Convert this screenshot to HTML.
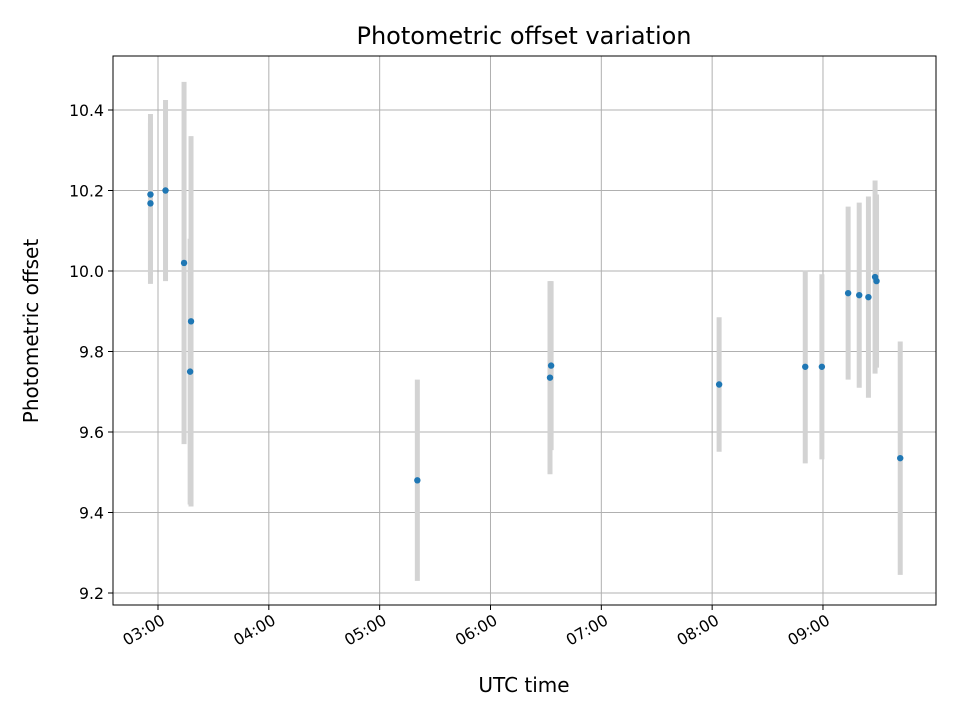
<!DOCTYPE html>
<html><head><meta charset="utf-8"><style>
html,body{margin:0;padding:0;background:#fff;}
svg text{font-family:"DejaVu Sans","Liberation Sans",sans-serif;fill:#000;}
</style></head><body>
<svg id="chart" width="960" height="720" xmlns="http://www.w3.org/2000/svg">
<rect width="960" height="720" fill="#fff"/>
<g id="grid"></g>
<g id="bars"></g>
<g id="pts"></g>
<rect x="113" y="56" width="823" height="549" fill="none" stroke="#000" stroke-width="1"/>
<g id="ticks"></g>
<text x="524" y="44" font-size="24" text-anchor="middle">Photometric offset variation</text>
<text x="524" y="692" font-size="20" text-anchor="middle">UTC time</text>
<text transform="translate(38,331) rotate(-90)" font-size="20" text-anchor="middle">Photometric offset</text>
</svg>
<script>
const times = [2.932,2.932,3.068,3.235,3.298,3.290,5.34,6.547,6.537,8.063,8.84,8.99,9.227,9.327,9.41,9.47,9.483,9.697];
const values = [10.19,10.168,10.20,10.02,9.875,9.75,9.48,9.765,9.735,9.718,9.762,9.762,9.945,9.94,9.935,9.985,9.975,9.535];
const errors = [0.2,0.2,0.225,0.45,0.46,0.33,0.25,0.21,0.24,0.167,0.24,0.23,0.215,0.23,0.25,0.24,0.215,0.29];
const yTicks = [9.2,9.4,9.6,9.8,10.0,10.2,10.4];
const yTickLabels = ["9.2","9.4","9.6","9.8","10.0","10.2","10.4"];
const xTicks = [3,4,5,6,7,8,9];
const xTickLabels = ["03:00","04:00","05:00","06:00","07:00","08:00","09:00"];

const NS="http://www.w3.org/2000/svg";
function xs(h){return 158+(h-3)*110.83;}
function ys(v){return 271-(v-10)*402.5;}
function mk(tag,attrs,parent){const e=document.createElementNS(NS,tag);for(const k in attrs)e.setAttribute(k,attrs[k]);document.getElementById(parent).appendChild(e);return e;}
yTicks.forEach((v,i)=>{
  const y=ys(v);
  const g=mk('line',{x1:113,x2:936,y1:y,y2:y,stroke:'#b0b0b0','stroke-width':1},'grid');
  
  
  const t=mk('line',{x1:108,x2:113,y1:y,y2:y,stroke:'#000'},'ticks');
  
  
  const l=mk('text',{x:104,y:y+6,'font-size':15.7,'text-anchor':'end'},'ticks');
  l.textContent=yTickLabels[i];
  
  
});
xTicks.forEach((h,i)=>{
  const x=xs(h);
  const g=mk('line',{x1:x,x2:x,y1:56,y2:605,stroke:'#b0b0b0','stroke-width':1},'grid');
  
  
  const t=mk('line',{x1:x,x2:x,y1:605,y2:610,stroke:'#000'},'ticks');
  
  
  const l=mk('text',{transform:`translate(${x+2},${613}) rotate(-30)`,'font-size':15.7,'text-anchor':'end',y:12},'ticks');
  l.textContent=xTickLabels[i];
  
  
});
times.forEach((h,i)=>{
  const x=xs(h);
  const b=mk('line',{x1:x,x2:x,y1:ys(values[i]+errors[i]),y2:ys(values[i]-errors[i]),stroke:'#d3d3d3','stroke-width':5},'bars');
  
  
});
times.forEach((h,i)=>{
  const c=mk('circle',{cx:xs(h),cy:ys(values[i]),r:3.2,fill:'#1f77b4'},'pts');
  
  
});
</script>
</body></html>
